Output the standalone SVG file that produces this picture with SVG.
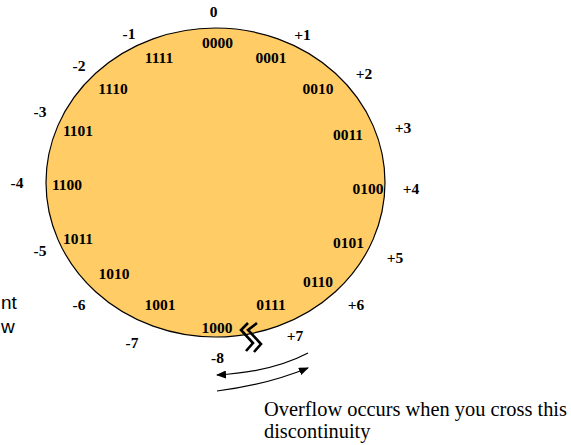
<svg xmlns="http://www.w3.org/2000/svg" width="571" height="445" viewBox="0 0 571 445">
<style>
.b{font-family:"Liberation Serif","Times New Roman",serif;font-weight:bold;font-size:15.5px;fill:#000;text-anchor:middle}
.n{font-family:"Liberation Serif","Times New Roman",serif;font-size:20.4px;fill:#000}
.s{font-family:"Liberation Sans",Arial,sans-serif;font-size:19px;fill:#000}
.z{fill:none;stroke:#000;stroke-width:2.6;stroke-linejoin:miter}
.c{fill:none;stroke:#000;stroke-width:1.2}
</style>
<defs>
<marker id="ah" markerWidth="10" markerHeight="8" refX="9" refY="4" orient="auto" markerUnits="userSpaceOnUse">
<path d="M0,0 L10,4 L0,8 Z" fill="#000"/>
</marker>
</defs>
<rect width="571" height="445" fill="#fff"/>
<g id="circle">
<ellipse cx="215.5" cy="182.5" rx="169.5" ry="154.5" fill="#FFCC66" stroke="#000" stroke-width="1.2"/>
</g>
<g id="codes">
<text class="b" x="217.5" y="48">0000</text>
<text class="b" x="271" y="63">0001</text>
<text class="b" x="318" y="94">0010</text>
<text class="b" x="348" y="140">0011</text>
<text class="b" x="368" y="194">0100</text>
<text class="b" x="348.5" y="248">0101</text>
<text class="b" x="318" y="287">0110</text>
<text class="b" x="271" y="310">0111</text>
<text class="b" x="217" y="333">1000</text>
<text class="b" x="160" y="310">1001</text>
<text class="b" x="114" y="279">1010</text>
<text class="b" x="78" y="244">1011</text>
<text class="b" x="67" y="190">1100</text>
<text class="b" x="78" y="136">1101</text>
<text class="b" x="113" y="94">1110</text>
<text class="b" x="159" y="63">1111</text>
</g>
<g id="values">
<text class="b" x="213.5" y="17">0</text>
<text class="b" x="302.5" y="40">+1</text>
<text class="b" x="364" y="79">+2</text>
<text class="b" x="403" y="133">+3</text>
<text class="b" x="411" y="194">+4</text>
<text class="b" x="395" y="263">+5</text>
<text class="b" x="356" y="310">+6</text>
<text class="b" x="295" y="341">+7</text>
<text class="b" x="217.5" y="363">-8</text>
<text class="b" x="132" y="348">-7</text>
<text class="b" x="79" y="310">-6</text>
<text class="b" x="40" y="256">-5</text>
<text class="b" x="17" y="188">-4</text>
<text class="b" x="40" y="117">-3</text>
<text class="b" x="79" y="71">-2</text>
<text class="b" x="129" y="39">-1</text>
</g>
<g id="break">
<path class="z" d="M248,323 L241,330 L253,343 L246,351"/>
<path class="z" d="M257,323 L248,330 L261,344 L254,352"/>
</g>
<g id="connectors">
<path class="c" d="M308,353 Q272,372 217,375" marker-end="url(#ah)"/>
<path class="c" d="M217,391 Q266,385 308,368" marker-end="url(#ah)"/>
</g>
<g id="note">
<text class="n" x="264" y="416">Overflow occurs when you cross this</text>
<text class="n" x="264" y="438">discontinuity</text>
</g>
<g id="cut">
<text class="s" x="1" y="309">nt</text>
<text class="s" x="1" y="333">w</text>
</g>
</svg>
